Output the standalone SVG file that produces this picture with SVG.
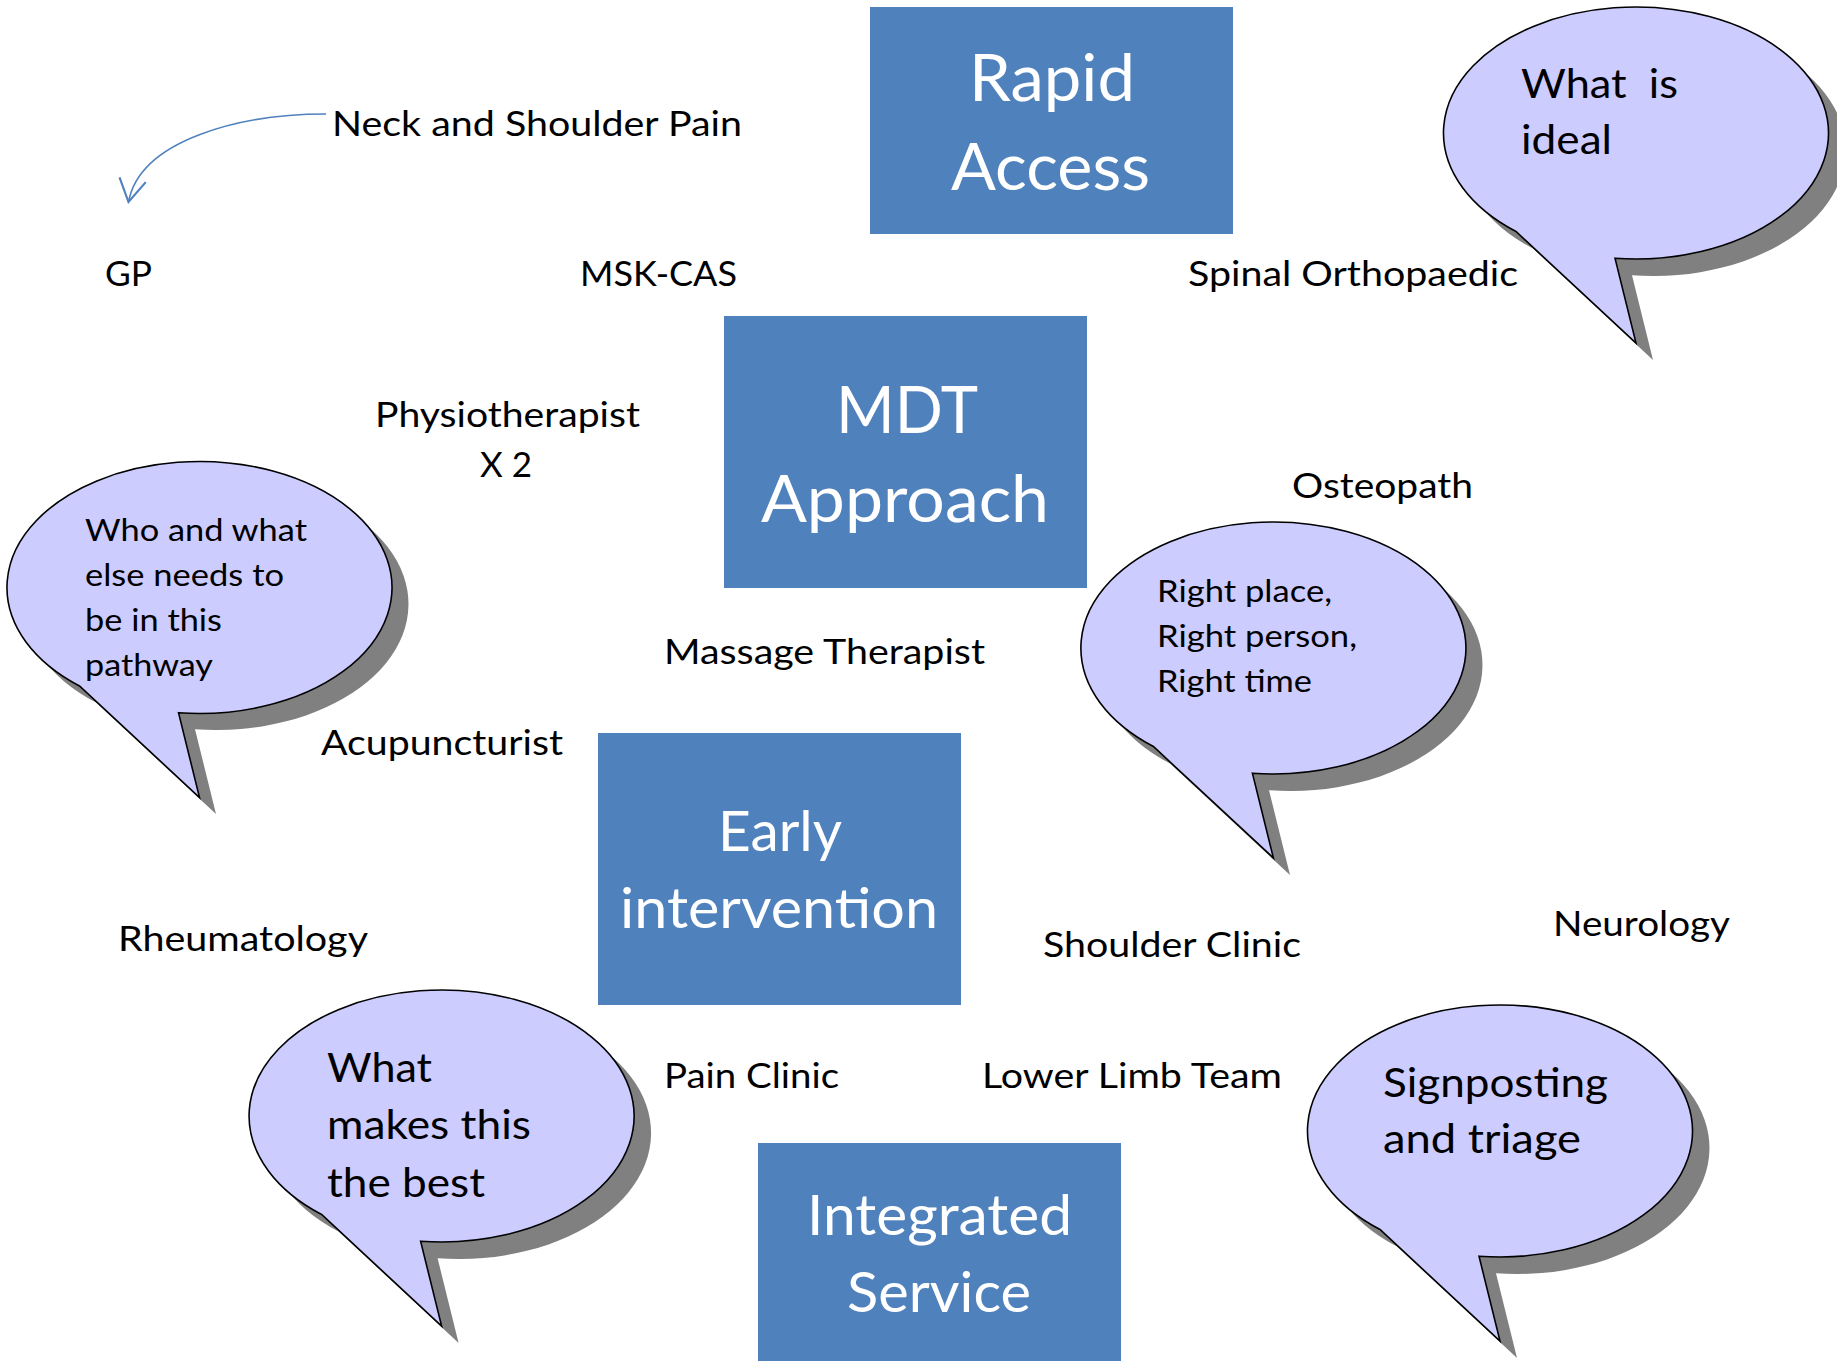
<svg xmlns="http://www.w3.org/2000/svg" xmlns:xlink="http://www.w3.org/1999/xlink" width="1837" height="1361" viewBox="0 0 1837 1361">
<style>
  text { font-family: "Lato", "Liberation Sans", sans-serif; }
  .box { fill: #4F81BD; }
  .boxtxt72 { fill: #FFFFFF; font-size: 66px; }
  .boxtxt60 { fill: #FFFFFF; font-size: 57px; }
  .lbl { fill: #000000; font-size: 34px; }
  .bs { fill: #000000; font-size: 31px; }
  .bl { fill: #000000; font-size: 40px; white-space: pre; }
  .bub { fill: #CCCCFF; stroke: #000000; stroke-width: 1.6; stroke-linejoin: miter; }
  .shadow { fill: #808080; }
  .conn { fill: none; stroke: #4F81BD; stroke-width: 1.6; }
</style>
<defs>
  <path id="bubble" d="M -21,125.25 A 192.5 126 0 1 0 -120,98.53 L 0,210 Z"/>
  <marker id="openArrow" markerUnits="userSpaceOnUse" markerWidth="40" markerHeight="40" refX="0" refY="0" viewBox="-20 -15 25 30" orient="auto" overflow="visible">
    <path d="M -17,-10 L 0,0 L -17,10" fill="none" stroke="#4F81BD" stroke-width="1.6"/>
  </marker>
</defs>
<rect width="1837" height="1361" fill="#FFFFFF"/>

<g id="connectors">
  <path class="conn" d="M 326,114 C 240,114 140,140 128.5,202" marker-end="url(#openArrow)"/>
</g>

<g id="rapid-access">
  <rect class="box" x="870" y="7" width="363" height="227"/>
  <text class="boxtxt72" x="969" y="101" textLength="166" lengthAdjust="spacingAndGlyphs">Rapid</text>
  <text class="boxtxt72" x="951" y="190" textLength="199" lengthAdjust="spacingAndGlyphs">Access</text>
</g>

<g id="mdt-approach">
  <rect class="box" x="724" y="316" width="363" height="272"/>
  <text class="boxtxt72" x="836" y="433" textLength="142" lengthAdjust="spacingAndGlyphs">MDT</text>
  <text class="boxtxt72" x="761" y="522" textLength="288" lengthAdjust="spacingAndGlyphs">Approach</text>
</g>

<g id="early-intervention">
  <rect class="box" x="598" y="733" width="363" height="272"/>
  <text class="boxtxt60" x="718" y="851" textLength="124" lengthAdjust="spacingAndGlyphs">Early</text>
  <text class="boxtxt60" x="620" y="928" textLength="318" lengthAdjust="spacingAndGlyphs">intervention</text>
</g>

<g id="integrated-service">
  <rect class="box" x="758" y="1143" width="363" height="218"/>
  <text class="boxtxt60" x="807" y="1235" textLength="265" lengthAdjust="spacingAndGlyphs">Integrated</text>
  <text class="boxtxt60" x="847" y="1312" textLength="184" lengthAdjust="spacingAndGlyphs">Service</text>
</g>

<g id="label-neck"><text class="lbl" x="332" y="136" textLength="410" lengthAdjust="spacingAndGlyphs">Neck and Shoulder Pain</text></g>
<g id="label-gp"><text class="lbl" x="105" y="286" textLength="47" lengthAdjust="spacingAndGlyphs">GP</text></g>
<g id="label-msk"><text class="lbl" x="580" y="286" textLength="157" lengthAdjust="spacingAndGlyphs">MSK-CAS</text></g>
<g id="label-spinal"><text class="lbl" x="1188" y="286" textLength="330" lengthAdjust="spacingAndGlyphs">Spinal Orthopaedic</text></g>
<g id="label-physio">
  <text class="lbl" x="375" y="427" textLength="265" lengthAdjust="spacingAndGlyphs">Physiotherapist</text>
  <text class="lbl" x="480" y="477" textLength="52" lengthAdjust="spacingAndGlyphs">X 2</text>
</g>
<g id="label-osteo"><text class="lbl" x="1292" y="498" textLength="181" lengthAdjust="spacingAndGlyphs">Osteopath</text></g>
<g id="label-massage"><text class="lbl" x="664" y="664" textLength="321" lengthAdjust="spacingAndGlyphs">Massage Therapist</text></g>
<g id="label-acu"><text class="lbl" x="321" y="755" textLength="242" lengthAdjust="spacingAndGlyphs">Acupuncturist</text></g>
<g id="label-neuro"><text class="lbl" x="1553" y="936" textLength="177" lengthAdjust="spacingAndGlyphs">Neurology</text></g>
<g id="label-rheum"><text class="lbl" x="118" y="951" textLength="250" lengthAdjust="spacingAndGlyphs">Rheumatology</text></g>
<g id="label-shoulder"><text class="lbl" x="1043" y="957" textLength="258" lengthAdjust="spacingAndGlyphs">Shoulder Clinic</text></g>
<g id="label-pain"><text class="lbl" x="664" y="1088" textLength="175" lengthAdjust="spacingAndGlyphs">Pain Clinic</text></g>
<g id="label-lowerlimb"><text class="lbl" x="982" y="1088" textLength="300" lengthAdjust="spacingAndGlyphs">Lower Limb Team</text></g>

<g id="bubble-who">
  <use xlink:href="#bubble" href="#bubble" class="shadow" x="216" y="604"/>
  <use xlink:href="#bubble" href="#bubble" class="bub" x="199.5" y="587.5"/>
  <text class="bs" x="85" y="541" textLength="222" lengthAdjust="spacingAndGlyphs">Who and what</text>
  <text class="bs" x="85" y="586" textLength="199" lengthAdjust="spacingAndGlyphs">else needs to</text>
  <text class="bs" x="85" y="631" textLength="137" lengthAdjust="spacingAndGlyphs">be in this</text>
  <text class="bs" x="85" y="676" textLength="128" lengthAdjust="spacingAndGlyphs">pathway</text>
</g>

<g id="bubble-ideal">
  <use xlink:href="#bubble" href="#bubble" class="shadow" x="1653" y="150"/>
  <use xlink:href="#bubble" href="#bubble" class="bub" x="1636" y="133"/>
  <text class="bl" xml:space="preserve" x="1521" y="98" textLength="157" lengthAdjust="spacingAndGlyphs">What  is</text>
  <text class="bl" x="1521" y="154" textLength="91" lengthAdjust="spacingAndGlyphs">ideal</text>
</g>

<g id="bubble-right">
  <use xlink:href="#bubble" href="#bubble" class="shadow" x="1290" y="665"/>
  <use xlink:href="#bubble" href="#bubble" class="bub" x="1273.4" y="648"/>
  <text class="bs" x="1157" y="602" textLength="175" lengthAdjust="spacingAndGlyphs">Right place,</text>
  <text class="bs" x="1157" y="647" textLength="200" lengthAdjust="spacingAndGlyphs">Right person,</text>
  <text class="bs" x="1157" y="692" textLength="155" lengthAdjust="spacingAndGlyphs">Right time</text>
</g>

<g id="bubble-best">
  <use xlink:href="#bubble" href="#bubble" class="shadow" x="458.6" y="1133"/>
  <use xlink:href="#bubble" href="#bubble" class="bub" x="441.6" y="1116"/>
  <text class="bl" x="327" y="1082" textLength="105" lengthAdjust="spacingAndGlyphs">What</text>
  <text class="bl" x="327" y="1139" textLength="204" lengthAdjust="spacingAndGlyphs">makes this</text>
  <text class="bl" x="327" y="1197" textLength="158" lengthAdjust="spacingAndGlyphs">the best</text>
</g>

<g id="bubble-signposting">
  <use xlink:href="#bubble" href="#bubble" class="shadow" x="1517" y="1148"/>
  <use xlink:href="#bubble" href="#bubble" class="bub" x="1500" y="1131"/>
  <text class="bl" x="1383" y="1097" textLength="225" lengthAdjust="spacingAndGlyphs">Signposting</text>
  <text class="bl" x="1383" y="1153" textLength="198" lengthAdjust="spacingAndGlyphs">and triage</text>
</g>
</svg>
